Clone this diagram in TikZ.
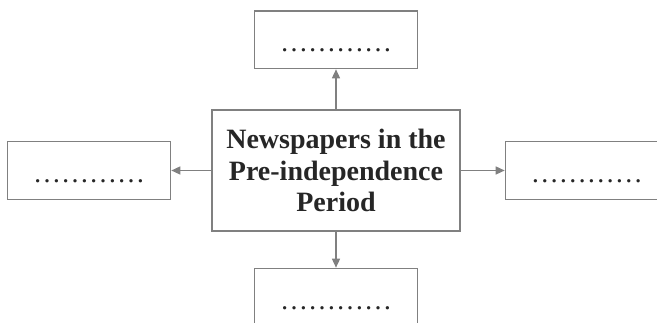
\documentclass[tikz,border=0pt]{standalone}
\usepackage{fontspec}
\setmainfont{Liberation Serif}
\usetikzlibrary{arrows.meta,positioning}
\definecolor{boxgray}{HTML}{808080}
\definecolor{inkgray}{HTML}{262626}
\tikzset{
    topic/.style={rectangle,draw=boxgray,line width=1.4pt,minimum width=248pt,minimum height=121pt,align=center,font=\fontsize{28}{31.5}\selectfont\bfseries,text=inkgray},
    blank/.style={rectangle,draw=boxgray,line width=1.4pt,minimum width=163pt,minimum height=57.5pt,font=\fontsize{28}{31.5}\selectfont,text=inkgray,text height=24pt,text depth=0pt},
    link/.style={-{Triangle[length=9pt,width=8pt]},draw=boxgray,line width=1.4pt}
}

\begin{document}
\begin{tikzpicture}[x=1pt,y=-1pt]

    \clip (0,0) rectangle (657,323);

    \node[topic] (period) at (336,170.5) {Newspapers in the\\Pre-independence\\Period};

    \node[blank] (up)    [above=40pt of period] {…………};
    \node[blank] (left)  [left=40pt of period]  {…………};
    \node[blank] (right) [right=44pt of period] {…………};
    \node[blank] (down)  [below=36pt of period] {…………};

    \draw[link] (period) -- (up);
    \draw[link] (period) -- (left);
    \draw[link] (period) -- (right);
    \draw[link] (period) -- (down);

\end{tikzpicture}
\end{document}
